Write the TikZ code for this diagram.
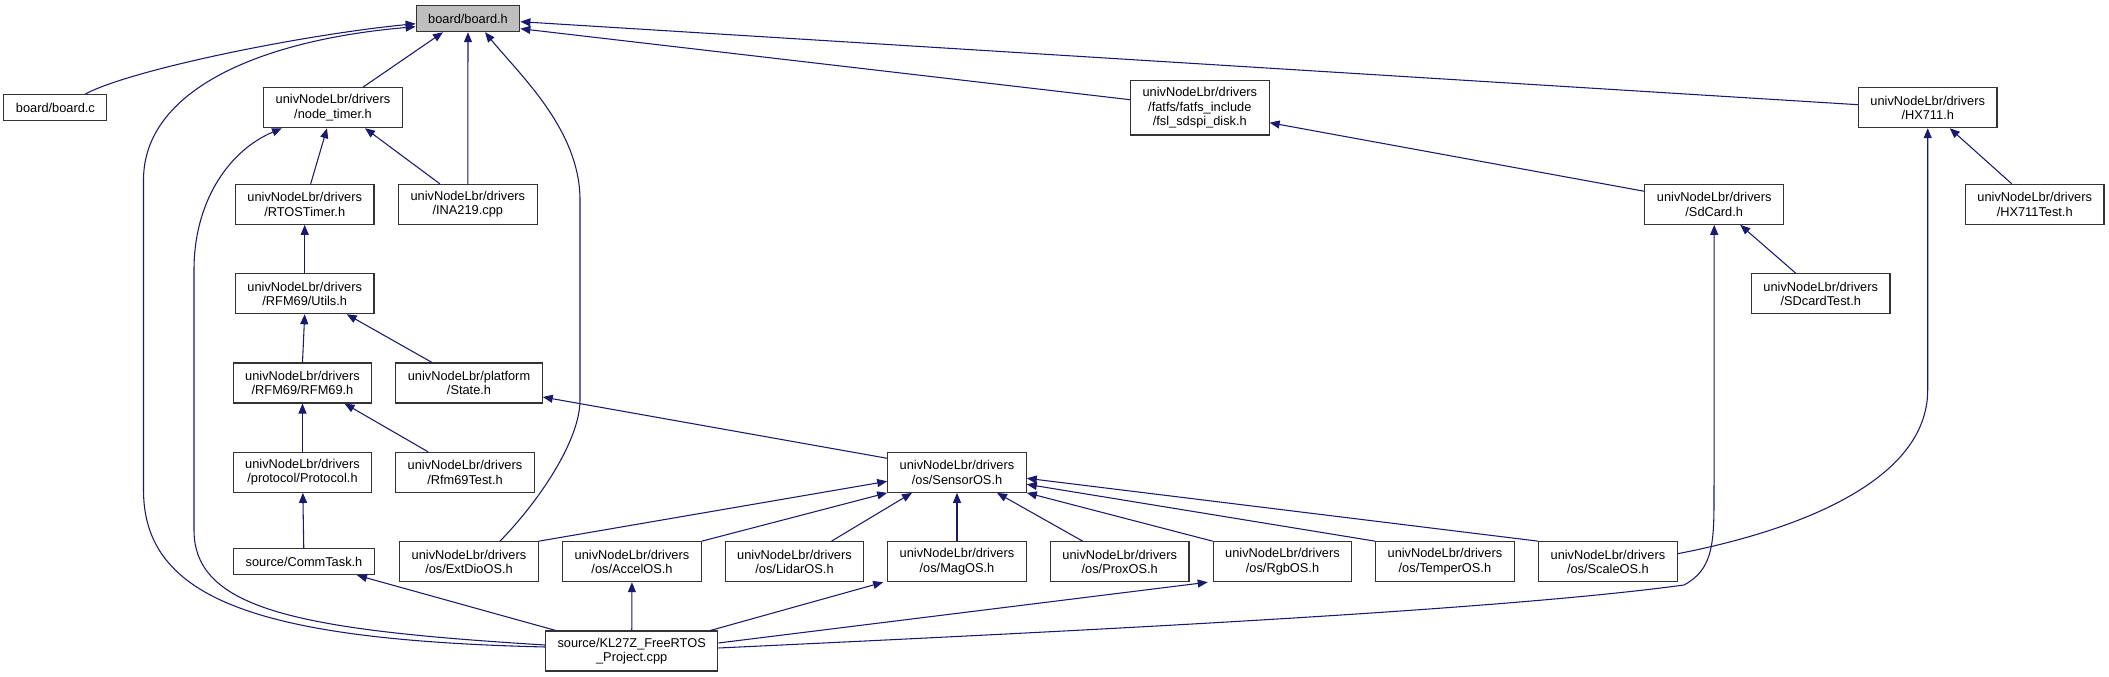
\documentclass[tikz,border=0pt]{standalone}
\usepackage{fontspec}
\setmainfont{Liberation Sans}
\usepackage{xcolor}
\usetikzlibrary{arrows.meta,calc}
\definecolor{edgeblue}{RGB}{25,25,112}

\begin{document}
\begin{tikzpicture}[
    x=0.75pt, y=-0.75pt,
    file/.style={draw=black!80, line width=0.8pt, fill=white, align=center, inner xsep=9pt, inner ysep=0pt, font=\fontsize{9.6}{10.9}\selectfont},
    oneline/.style={minimum height=19.5pt},
    twoline/.style={minimum height=30pt},
    threeline/.style={minimum height=41pt},
    root/.style={fill=black!25},
    link/.style={-{Triangle[length=7.5pt,width=6pt]}, draw=edgeblue, line width=0.8pt}
]
  \useasboundingbox (0,0) rectangle (2109,677);

  % top row
  \node[file, oneline, root] (boardh) at (468,18.7) {board/board.h};
  \node[file, oneline] (boardc) at (55.4,107.5) {board/board.c};
  \node[file, twoline] (nodetimer) at (333,107.7) {univNodeLbr/drivers\\/node\_timer.h};
  \node[file, threeline] (fsl) at (1199.8,107.7) {univNodeLbr/drivers\\/fatfs/fatfs\_include\\/fsl\_sdspi\_disk.h};
  \node[file, twoline] (hx711) at (1927.7,107.7) {univNodeLbr/drivers\\/HX711.h};

  % timer and card drivers
  \node[file, twoline] (rtostimer) at (304.7,204.3) {univNodeLbr/drivers\\/RTOSTimer.h};
  \node[file, twoline] (ina219) at (467.8,204.3) {univNodeLbr/drivers\\/INA219.cpp};
  \node[file, twoline] (sdcard) at (1714.2,204.3) {univNodeLbr/drivers\\/SdCard.h};
  \node[file, twoline] (hx711test) at (2034.7,204.3) {univNodeLbr/drivers\\/HX711Test.h};
  \node[file, twoline] (utils) at (304.7,293.7) {univNodeLbr/drivers\\/RFM69/Utils.h};
  \node[file, twoline] (sdcardtest) at (1820.7,293.7) {univNodeLbr/drivers\\/SDcardTest.h};

  % radio stack
  \node[file, twoline] (rfm69) at (302.5,383) {univNodeLbr/drivers\\/RFM69/RFM69.h};
  \node[file, twoline] (state) at (469,383) {univNodeLbr/platform\\/State.h};
  \node[file, twoline] (protocol) at (302.5,472.3) {univNodeLbr/drivers\\/protocol/Protocol.h};
  \node[file, twoline] (rfm69test) at (465,472.3) {univNodeLbr/drivers\\/Rfm69Test.h};
  \node[file, twoline] (sensoros) at (957,472.3) {univNodeLbr/drivers\\/os/SensorOS.h};

  % sensor tasks
  \node[file, oneline] (commtask) at (304,561.7) {source/CommTask.h};
  \node[file, twoline] (extdioos) at (469,561.7) {univNodeLbr/drivers\\/os/ExtDioOS.h};
  \node[file, twoline] (accelos) at (632,561.7) {univNodeLbr/drivers\\/os/AccelOS.h};
  \node[file, twoline] (lidaros) at (794.5,561.7) {univNodeLbr/drivers\\/os/LidarOS.h};
  \node[file, twoline] (magos) at (957,561.7) {univNodeLbr/drivers\\/os/MagOS.h};
  \node[file, twoline] (proxos) at (1119.7,561.7) {univNodeLbr/drivers\\/os/ProxOS.h};
  \node[file, twoline] (rgbos) at (1282.5,561.7) {univNodeLbr/drivers\\/os/RgbOS.h};
  \node[file, twoline] (temperos) at (1444.9,561.7) {univNodeLbr/drivers\\/os/TemperOS.h};
  \node[file, twoline] (scaleos) at (1607.9,561.7) {univNodeLbr/drivers\\/os/ScaleOS.h};
  \node[file, twoline] (kl27z) at (631.7,651) {source/KL27Z\_FreeRTOS\\\_Project.cpp};

  % includes of board.h
  \draw[link] ($(boardc.north)+(30,0)$) .. controls (130,70) and (300,35) .. ($(boardh.west)+(0,5)$);
  \draw[link] ($(nodetimer.north)+(30,0)$) -- ($(boardh.south)+(-25,0)$);
  \draw[link] (ina219.north) -- (boardh.south);
  \draw[link] ($(extdioos.north)+(31,0)$) .. controls (540,500) and (580,440) .. (580,400) -- (580,200) .. controls (580,130) and (520,75) .. ($(boardh.south)+(17,0)$);
  \draw[link] ($(kl27z.west)+(0,-4)$) .. controls (260,640) and (143.5,600) .. (143.5,490) -- (143.5,180) .. controls (143.5,90) and (260,40) .. ($(boardh.west)+(0,8)$);
  \draw[link] ($(fsl.west)+(0,-8)$) -- ($(boardh.east)+(0,10)$);
  \draw[link] ($(hx711.west)+(0,-3)$) -- ($(boardh.east)+(0,3)$);

  % timer chain
  \draw[link] ($(rtostimer.north)+(6,0)$) -- ($(nodetimer.south)+(-6,0)$);
  \draw[link] ($(ina219.north)+(-28,0)$) -- ($(nodetimer.south)+(32,0)$);
  \draw[link] ($(kl27z.west)+(0,-6)$) .. controls (300,630) and (194,610) .. (194,530) -- (194,270) .. controls (194,200) and (230,150) .. ($(nodetimer.south)+(-51,0)$);
  \draw[link] (utils) -- (rtostimer);
  \draw[link] (rfm69.north) -- (utils.south);
  \draw[link] ($(state.north)+(-37,0)$) -- ($(utils.south)+(42,0)$);
  \draw[link] (protocol) -- (rfm69);
  \draw[link] ($(rfm69test.north)+(-37,0)$) -- ($(rfm69.south)+(42,0)$);
  \draw[link] (commtask) -- (protocol);
  \draw[link] ($(kl27z.north)+(-76,0)$) -- ($(commtask.south)+(53,0)$);

  % SensorOS users
  \draw[link] ($(sensoros.west)+(0,-14)$) -- ($(state.east)+(0,14)$);
  \draw[link] (extdioos.north east) -- ($(sensoros.west)+(0,9)$);
  \draw[link] (accelos.north east) -- (sensoros.south west);
  \draw[link] ($(lidaros.north)+(37,0)$) -- ($(sensoros.south)+(-45,0)$);
  \draw[link] (magos) -- (sensoros);
  \draw[link] ($(proxos.north)+(-37,0)$) -- ($(sensoros.south)+(40,0)$);
  \draw[link] (rgbos.north west) -- (sensoros.south east);
  \draw[link] (temperos.north west) -- ($(sensoros.east)+(0,12)$);
  \draw[link] (scaleos.north west) -- ($(sensoros.east)+(0,6)$);

  % main project file
  \draw[link] (kl27z) -- (accelos);
  \draw[link] ($(kl27z.north east)+(-8,0)$) -- ($(magos.south west)+(-4,0)$);
  \draw[link] ($(kl27z.east)+(0,-8)$) -- ($(rgbos.south west)+(-5,0)$);
  \draw[link] ($(kl27z.east)+(0,-3)$) .. controls (1100,630) and (1500,610) .. (1684,585) .. controls (1712,570) and (1714,545) .. (1714,500) -- (sdcard.south);

  % card and scale drivers
  \draw[link] ($(sdcard.west)+(0,-13)$) -- ($(fsl.east)+(0,15)$);
  \draw[link] ($(sdcardtest.north)+(-25,0)$) -- ($(sdcard.south)+(26,0)$);
  \draw[link] ($(hx711test.north)+(-23,0)$) -- ($(hx711.south)+(22,0)$);
  \draw[link] ($(scaleos.east)+(0,-8)$) .. controls (1800,530) and (1927.7,480) .. (1927.7,390) -- (hx711.south);
\end{tikzpicture}
\end{document}
